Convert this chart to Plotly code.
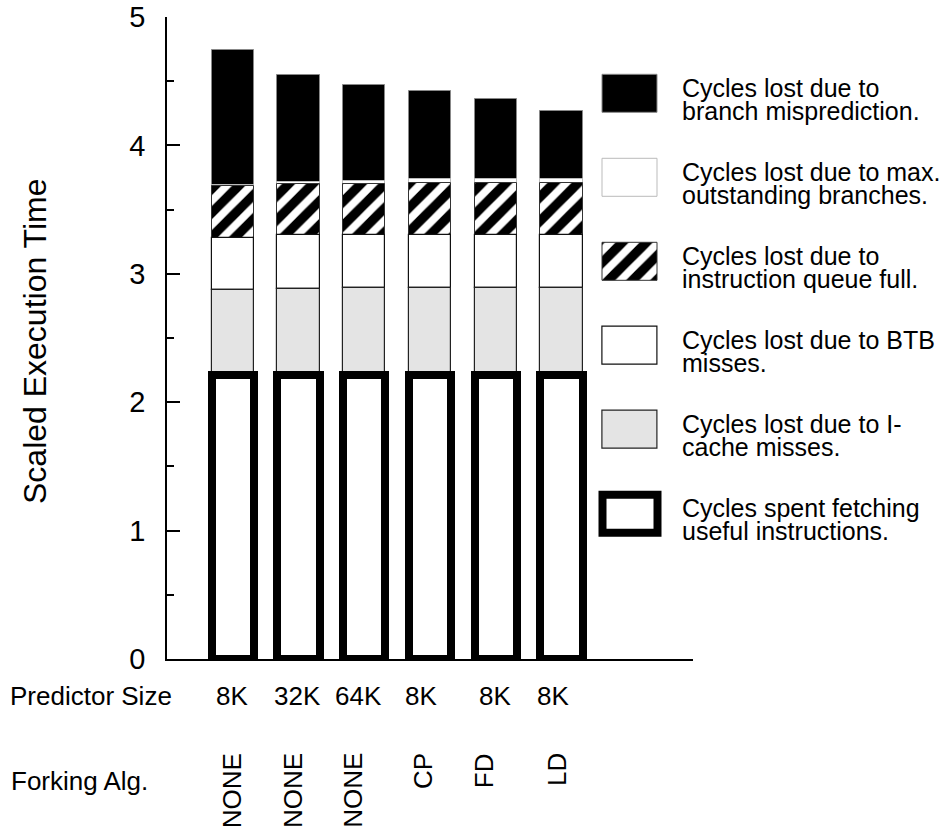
import numpy as np
import plotly.graph_objects as go

# ---------------- data ----------------
predictor_size = ["8K", "32K", "64K", "8K", "8K", "8K"]
forking_alg = ["NONE", "NONE", "NONE", "CP", "FD", "LD"]

useful_fetch = [2.21, 2.21, 2.21, 2.21, 2.21, 2.21]
icache_miss = [0.66, 0.67, 0.68, 0.68, 0.68, 0.68]
btb_miss = [0.41, 0.42, 0.41, 0.41, 0.41, 0.41]
iq_full = [0.40, 0.40, 0.40, 0.41, 0.41, 0.41]
max_outstanding = [0.01, 0.015, 0.02, 0.025, 0.025, 0.03]
mispredict = [1.05, 0.83, 0.75, 0.69, 0.63, 0.53]

y_ticks = [0, 1, 2, 3, 4, 5]

legend_lines = [
    ("Cycles lost due to", "branch misprediction."),
    ("Cycles lost due to max.", "outstanding branches."),
    ("Cycles lost due to", "instruction queue full."),
    ("Cycles lost due to BTB", "misses."),
    ("Cycles lost due to I-", "cache misses."),
    ("Cycles spent fetching", "useful instructions."),
]

# label nudges (px) relative to bar centres
size_label_shift = [-1, -1, -6, -9, -1, -9]
fork_label_shift = [-1, -6, -12, -7, -12, -5]

# ---------------- styles ----------------
FONT = "Liberation Sans, Arial, Helvetica, sans-serif"
styles = {
    "useful": dict(marker=dict(color="white", line=dict(color="black", width=8))),
    "icache": dict(marker=dict(color="#e4e4e4", line=dict(color="#222", width=1.2))),
    "btb": dict(marker=dict(color="white", line=dict(color="#111", width=1.2))),
    "iq": dict(marker=dict(color="white", line=dict(color="#333", width=1),
                           pattern=dict(shape="/", fgcolor="black", bgcolor="white",
                                        fgopacity=1, fillmode="replace",
                                        size=17, solidity=0.55))),
    "maxout": dict(marker=dict(color="white", line=dict(color="#bbbbbb", width=1))),
    "mispred": dict(marker=dict(color="black", line=dict(color="#888", width=1))),
}

series = [  # bottom -> top
    ("useful", useful_fetch),
    ("icache", icache_miss),
    ("btb", btb_miss),
    ("iq", iq_full),
    ("maxout", max_outstanding),
    ("mispred", mispredict),
]

x = np.arange(len(predictor_size))
bases = {}
acc = np.zeros(len(x))
for key, vals in series:
    bases[key] = acc.copy()
    acc = acc + np.array(vals)

fig = go.Figure()
# draw top segments first so lower ones (thick outline) sit on top
for key, vals in reversed(series):
    fig.add_trace(go.Bar(
        x=x, y=vals, base=bases[key], width=0.64,
        showlegend=False, cliponaxis=False, hoverinfo="skip",
        xaxis="x", yaxis="y", **styles[key]))

# legend swatches on an auxiliary axis
legend_keys = ["mispred", "maxout", "iq", "btb", "icache", "useful"]
for i, key in enumerate(legend_keys):
    fig.add_trace(go.Bar(
        y=[i], x=[1], base=[0], width=0.45, orientation="h",
        showlegend=False, cliponaxis=False, hoverinfo="skip",
        xaxis="x2", yaxis="y2", **styles[key]))

# ---------------- layout geometry ----------------
W, H = 951, 833
L, R, T, B = 167, 258, 17, 174
PW, PH = W - L - R, H - T - B


def px_x(px):
    return (px - L) / PW


def px_y(py):
    return (H - B - py) / PH


fig.update_layout(
    width=W, height=H,
    margin=dict(l=L, r=R, t=T, b=B, pad=0, autoexpand=False),
    paper_bgcolor="white", plot_bgcolor="white",
    barmode="overlay", bargap=0,
    font=dict(family=FONT, color="black"),
    showlegend=False,
    xaxis=dict(range=[-1, 7], domain=[0, 1], showticklabels=False, ticks="",
               showgrid=False, zeroline=False, showline=True, automargin=False,
               linecolor="black", linewidth=1.5, fixedrange=True),
    yaxis=dict(range=[0, 5], domain=[0, 1], tickvals=y_ticks, automargin=False,
               ticks="inside", ticklen=13, tickwidth=1.5, tickcolor="black",
               minor=dict(dtick=0.5, ticks="inside", ticklen=7, tickwidth=1.5,
                          tickcolor="black", showgrid=False),
               showgrid=False, zeroline=False, showline=True,
               linecolor="black", linewidth=1.5,
               tickfont=dict(size=29, family=FONT), ticklabelstandoff=14),
    xaxis2=dict(domain=[px_x(596.5), px_x(662.5)], range=[-0.1, 1.1],
                anchor="y2", visible=False, fixedrange=True, automargin=False),
    yaxis2=dict(domain=[px_y(555.5), px_y(51.8)], range=[5.5, -0.5],
                anchor="x2", visible=False, fixedrange=True, automargin=False),
)

ann = []
# y-axis title
ann.append(dict(text="Scaled Execution Time", x=px_x(35), y=px_y(341),
                xref="paper", yref="paper", textangle=-90, showarrow=False,
                xanchor="center", yanchor="middle", font=dict(size=32)))
# row headers
ann.append(dict(text="Predictor Size", x=px_x(8), y=px_y(696), xref="paper",
                yref="paper", showarrow=False, xanchor="left", yanchor="middle",
                font=dict(size=26)))
ann.append(dict(text="Forking Alg.", x=px_x(9), y=px_y(781), xref="paper",
                yref="paper", showarrow=False, xanchor="left", yanchor="middle",
                font=dict(size=26)))
for i, (ps, fa) in enumerate(zip(predictor_size, forking_alg)):
    ann.append(dict(text=ps, x=i, y=px_y(696), xref="x", yref="paper",
                    xshift=size_label_shift[i], showarrow=False,
                    xanchor="center", yanchor="middle", font=dict(size=26)))
    ann.append(dict(text=fa, x=i, y=px_y(751), xref="x", yref="paper",
                    xshift=fork_label_shift[i], textangle=-90, showarrow=False,
                    xanchor="center", yanchor="top", font=dict(size=26)))
# legend text
for i, (l1, l2) in enumerate(legend_lines):
    ann.append(dict(text=l1, x=px_x(680), y=i, xref="paper", yref="y2",
                    yshift=6, showarrow=False, xanchor="left", yanchor="middle",
                    font=dict(size=25)))
    ann.append(dict(text=l2, x=px_x(680), y=i, xref="paper", yref="y2",
                    yshift=-17, showarrow=False, xanchor="left", yanchor="middle",
                    font=dict(size=25)))
fig.update_layout(annotations=ann)

fig.write_html("out.html")
